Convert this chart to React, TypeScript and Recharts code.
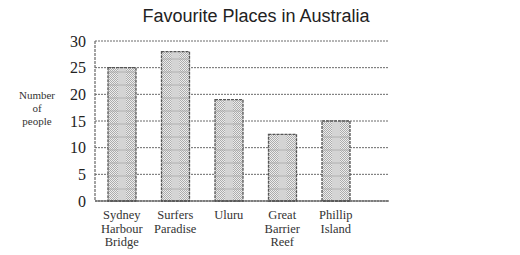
import React from "react";
import { BarChart, Bar, XAxis, YAxis, CartesianGrid } from "recharts";

const categories = ["Sydney Harbour Bridge", "Surfers Paradise", "Uluru", "Great Barrier Reef", "Phillip Island"];
const categoryLines = [["Sydney", "Harbour", "Bridge"], ["Surfers", "Paradise"], ["Uluru"], ["Great", "Barrier", "Reef"], ["Phillip", "Island"]];
const values = [25, 28, 19, 12.5, 15];
const yTicks = [0, 5, 10, 15, 20, 25, 30];
const title = "Favourite Places in Australia";
const yLabelLines = ["Number", "of", "people"];

const data = categories.map((c, i) => ({ name: c, value: values[i], idx: i }));

const SERIF = "'Liberation Serif', 'DejaVu Serif', serif";

const XTick = (props: any) => {
  const { x, y, payload } = props;
  const lines = categoryLines[payload.index] || [payload.value];
  return (
    <text x={x} y={y} textAnchor="middle" fontFamily={SERIF} fontSize={12.5} fill="#333">
      {lines.map((l: string, i: number) => (
        <tspan key={i} x={x} dy={i === 0 ? 10 : 13.5}>{l}</tspan>
      ))}
    </text>
  );
};

const BarShape = (props: any) => {
  const { x, y, width, height } = props;
  if (!height || height <= 0) return null;
  const stripeW = width * 0.28;
  const lines: number[] = [];
  for (let yy = y + height - 12; yy > y + 3; yy -= 13) lines.push(yy);
  return (
    <g>
      <rect x={x} y={y} width={width} height={height} fill="url(#checker)" />
      <rect x={x + width / 2 - stripeW / 2} y={y} width={stripeW} height={height} fill="#d4d4d4" />
      {lines.map((ly, i) => (
        <line key={i} x1={x} x2={x + width} y1={ly} y2={ly} stroke="#a8a8a8" strokeWidth={0.8} />
      ))}
      <rect x={x} y={y} width={width} height={height} fill="none" stroke="#555" strokeWidth={1.3} strokeDasharray="3 1" />
    </g>
  );
};

export default function App() {
  return (
    <div style={{ position: "absolute", left: 0, top: 0, width: 520, height: 255, background: "#fff" }}>
      <svg width={520} height={255} style={{ position: "absolute", left: 0, top: 0 }}>
        <text x={256} y={22} textAnchor="middle" fontFamily="'Liberation Sans', Arial, sans-serif" fontSize={18} fill="#222">
          {title}
        </text>
        <text x={37} y={99} textAnchor="middle" fontFamily={SERIF} fontSize={11} fill="#333">
          {yLabelLines.map((l, i) => (
            <tspan key={i} x={37} dy={i === 0 ? 0 : 13}>{l}</tspan>
          ))}
        </text>
      </svg>
      <div style={{ position: "absolute", left: 0, top: 0 }}>
        <BarChart width={520} height={255} data={data} margin={{ top: 41, right: 131, bottom: 0, left: 55 }} barSize={28}>
          <defs>
            <pattern id="checker" width={2} height={2} patternUnits="userSpaceOnUse">
              <rect width={2} height={2} fill="#ececec" />
              <rect width={1} height={1} fill="#acacac" />
              <rect x={1} y={1} width={1} height={1} fill="#acacac" />
            </pattern>
          </defs>
          <CartesianGrid vertical={false} stroke="#444" strokeDasharray="2 1" strokeWidth={0.8} />
          <XAxis
            dataKey="name"
            interval={0}
            tick={<XTick />}
            tickLine={false}
            axisLine={{ stroke: "#444", strokeWidth: 1.2 }}
            padding={{ left: 0, right: 26.5 }}
            height={54}
          />
          <YAxis
            domain={[0, 30]}
            ticks={yTicks}
            width={40}
            tickLine={false}
            axisLine={{ stroke: "#666", strokeDasharray: "3 1", strokeWidth: 1.2 }}
            tick={{ fontFamily: SERIF, fontSize: 16, fill: "#222" }}
            tickMargin={3}
            interval={0}
          />
          <Bar dataKey="value" isAnimationActive={false} shape={<BarShape />} />
        </BarChart>
      </div>
    </div>
  );
}
